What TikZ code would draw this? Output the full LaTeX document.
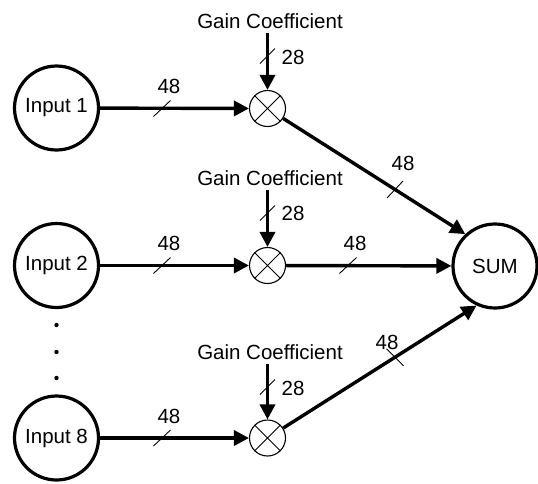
\documentclass[tikz,border=0pt]{standalone}
\usepackage{fontspec}
\setmainfont{Liberation Sans}
\usetikzlibrary{arrows.meta,calc}
\begin{document}
\begin{tikzpicture}[x=1pt,y=-1pt,
  font=\fontsize{20.5}{24}\selectfont,
  io/.style={circle,draw,line width=3.2pt,minimum size=84pt,inner sep=0pt},
  mult/.style={circle,draw,line width=1.1pt,minimum size=36pt,inner sep=0pt},
  conn/.style={line width=3.4pt,-{Triangle[length=15pt,width=15pt]}},
  slashmark/.style={line width=0.9pt},
  gain/.style={inner sep=4.5pt},
  lbl/.style={inner sep=0pt}]
\useasboundingbox (0,0) rectangle (538,483);

% inputs
\node[io] (in1) at (56.5,108) {Input 1};
\node[io] (in2) at (56.5,265.5) {Input 2};
\node[io] (in8) at (56.5,438) {Input 8};
\node[io] (sum) at (495,266) {SUM};

% multipliers
\foreach \n/\y in {m1/108.5,m2/265.5,m8/438}{
  \node[mult] (\n) at (267.5,\y) {};
  \draw[line width=0.9pt] (\n.45) -- (\n.225) (\n.135) -- (\n.315);
}

% gain coefficients
\node[gain] (g1) at (270,21) {Gain Coefficient};
\node[gain] (g2) at (270,178) {Gain Coefficient};
\node[gain] (g8) at (270,352) {Gain Coefficient};
\draw[conn] (g1.south -| m1) -- (m1);
\draw[conn] (g2.south -| m2) -- (m2);
\draw[conn] (g8.south -| m8) -- (m8);

% connectors
\draw[conn] (in1) -- (m1);
\draw[conn] (in2) -- (m2);
\draw[conn] (in8) -- (m8);
\draw[conn] (m1) -- (sum.133);
\draw[conn] (m2) -- (sum);
\draw[conn] (m8) -- (sum.245);

% bus-width slashes
\coordinate (vt) at (395,0);
\coordinate (vb) at (395,483);
\coordinate (s5) at (intersection of m1--sum.133 and vt--vb);
\coordinate (s6) at (intersection of m8--sum.245 and vt--vb);
\foreach \x/\y in {162/108.5,162/265.5,162/438,348/265.5}{
  \draw[slashmark] (\x-8.5,\y+8) -- (\x+8.5,\y-8);
}
\foreach \y in {56,213,387}{
  \draw[slashmark] (267.5-7.5,\y+7.5) -- (267.5+7.5,\y-7.5);
}
\draw[slashmark] ($(s5)+(-8,8.5)$) -- ($(s5)+(8,-8.5)$);
\draw[slashmark] ($(s6)+(-8.5,-8.5)$) -- ($(s6)+(8.5,8.5)$);

% labels
\node[lbl] (l1) at (169,86) {48};
\node[lbl] (l2) at (169,243) {48};
\node[lbl] (l8) at (169,416) {48};
\node[lbl] (l4) at (355,243) {48};
\node[lbl] (l5) at (403,163) {48};
\node[lbl] (l6) at (387,342) {48};
\node[lbl] (c1) at (293,57) {28};
\node[lbl] (c2) at (293,213) {28};
\node[lbl] (c8) at (293,388) {28};

% ellipsis dots
\foreach \y in {325,352,378}{
  \fill (56.5,\y) circle (2.2);
}
\end{tikzpicture}
\end{document}
